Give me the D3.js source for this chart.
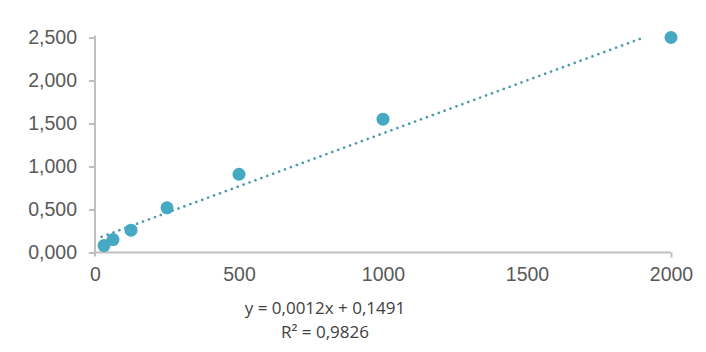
<!DOCTYPE html>
<html>
<head>
<meta charset="utf-8">
<script src="https://cdn.jsdelivr.net/npm/d3@7"></script>
<style>
  body { margin: 0; background: #fff; }
  svg { display: block; }
</style>
</head>
<body>
<div id="chart"></div>
<script>
// concentration vs signal
const xValues = [31.25, 62.5, 125, 250, 500, 1000, 2000];
const yValues = [0.08, 0.15, 0.26, 0.52, 0.91, 1.55, 2.5];
const xTicks = [0, 500, 1000, 1500, 2000];
const yTicks = [0, 0.5, 1, 1.5, 2, 2.5];
const trendRange = [23, 1900];
const equationLines = ["y = 0,0012x + 0,1491", "R² = 0,9826"];

const width = 706, height = 352;
const margin = {top: 37.5, right: 35, bottom: 100, left: 95};

const svg = d3.select("#chart").append("svg")
  .attr("width", width)
  .attr("height", height);

const x = d3.scaleLinear()
  .domain([0, 2000])
  .range([margin.left, 671]);

const y = d3.scaleLinear()
  .domain([0, 2.5])
  .range([252.5, margin.top]);

const axisColor = "#bfbfbf";
const labelColor = "#595959";

// y axis
const yAxis = svg.append("g")
  .attr("transform", `translate(${margin.left},0)`)
  .call(d3.axisLeft(y).tickValues(yTicks).tickSize(6).tickPadding(12)
    .tickFormat(d => d3.format(".3f")(d).replace(/^(\d)\./, "$1,")));
yAxis.select(".domain").remove();
yAxis.append("line")
  .attr("x1", 0).attr("x2", 0)
  .attr("y1", y(2.5) - 2).attr("y2", y(0) + 4)
  .attr("stroke", axisColor).attr("stroke-width", 2);
yAxis.selectAll(".tick line").attr("stroke", axisColor).attr("stroke-width", 2);
yAxis.selectAll(".tick text")
  .attr("fill", labelColor)
  .style("font-family", "'Liberation Sans', Arial, sans-serif")
  .style("font-size", "19.5px");

// x axis
const xAxis = svg.append("g")
  .attr("transform", `translate(0,${y(0)})`)
  .call(d3.axisBottom(x).tickValues(xTicks).tickSize(0).tickPadding(15)
    .tickFormat(d3.format("d")));
xAxis.select(".domain").remove();
xAxis.append("line")
  .attr("x1", x(0)).attr("x2", x(2000))
  .attr("stroke", axisColor).attr("stroke-width", 2);
xAxis.selectAll(".tick")
  .filter(d => d === 2000)
  .append("line")
  .attr("y1", 0).attr("y2", 5)
  .attr("stroke", axisColor).attr("stroke-width", 2);
xAxis.selectAll(".tick text")
  .attr("fill", labelColor)
  .style("font-family", "'Liberation Sans', Arial, sans-serif")
  .style("font-size", "19.5px");

// linear trendline (least squares)
const mx = d3.mean(xValues), my = d3.mean(yValues);
const sxy = d3.sum(xValues, (v, i) => (v - mx) * (yValues[i] - my));
const sxx = d3.sum(xValues, v => (v - mx) * (v - mx));
const slope = sxy / sxx, intercept = my - slope * mx;

svg.append("path")
  .datum(trendRange)
  .attr("d", d3.line().x(d => x(d)).y(d => y(intercept + slope * d)))
  .attr("fill", "none")
  .attr("stroke", "#4a9bab")
  .attr("stroke-width", 2.6)
  .attr("stroke-linecap", "round")
  .attr("stroke-dasharray", "0.1 6.2");

// points
svg.append("g")
  .selectAll("circle")
  .data(xValues.map((v, i) => ({x: v, y: yValues[i]})))
  .join("circle")
  .attr("cx", d => x(d.x))
  .attr("cy", d => y(d.y))
  .attr("r", 6.5)
  .attr("fill", "#46a9c4");

// equation label
svg.append("g")
  .selectAll("text")
  .data(equationLines)
  .join("text")
  .attr("x", 325)
  .attr("y", (d, i) => 314 + i * 24)
  .attr("text-anchor", "middle")
  .attr("fill", "#404040")
  .style("font-family", "'Open Sans', sans-serif")
  .style("font-size", "17px")
  .text(d => d);
</script>
</body>
</html>
